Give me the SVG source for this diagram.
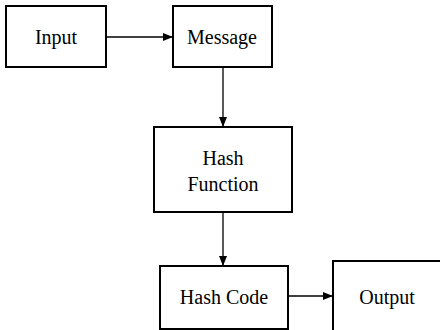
<svg xmlns="http://www.w3.org/2000/svg" width="440" height="330" viewBox="0 0 440 330">
<style>
.b{fill:#fff;stroke:#000;stroke-width:2}
.t{font-family:"Liberation Serif",serif !important;font-size:20px;fill:#000;text-anchor:middle}
.c{stroke:#000;stroke-width:1.3;fill:none}
</style>
<defs>
<marker id="a" viewBox="0 0 10 10" refX="10" refY="5" markerWidth="10" markerHeight="10" markerUnits="userSpaceOnUse" orient="auto">
<path d="M0,1 L10,5 L0,9 Z" fill="#000"/>
</marker>
</defs>
<rect width="440" height="330" fill="#fff"/>
<g id="input"><rect class="b" x="6" y="6" width="100" height="61"/><text class="t" x="56" y="44">Input</text></g>
<g id="message"><rect class="b" x="173" y="6" width="99" height="61"/><text class="t" x="222" y="44">Message</text></g>
<g id="hashfunction"><rect class="b" x="154" y="127" width="138" height="85"/><text class="t" x="223" y="165">Hash</text><text class="t" x="223" y="191">Function</text></g>
<g id="hashcode"><rect class="b" x="160" y="266" width="128" height="63"/><text class="t" x="224" y="304">Hash Code</text></g>
<g id="output"><rect class="b" x="333" y="261" width="112" height="75"/><text class="t" x="387" y="304">Output</text></g>
<g id="connectors">
<line class="c" x1="106" y1="37" x2="173" y2="37" marker-end="url(#a)"/>
<line class="c" x1="223" y1="67" x2="223" y2="127" marker-end="url(#a)"/>
<line class="c" x1="223" y1="212" x2="223" y2="266" marker-end="url(#a)"/>
<line class="c" x1="288" y1="296" x2="333" y2="296" marker-end="url(#a)"/>
</g>
</svg>
